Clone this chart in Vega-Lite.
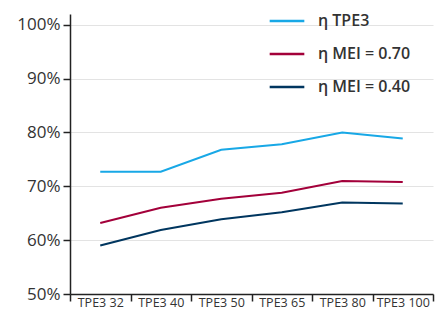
{
  "$schema": "https://vega.github.io/schema/vega-lite/v6.json",
  "width": 363,
  "height": 280,
  "autosize": "none",
  "padding": {"left": 70, "top": 14, "right": 13, "bottom": 18},
  "config": {
    "font": "Open Sans",
    "view": {"stroke": null}
  },
  "data": {
    "values": [
      {"model": "TPE3 32", "series": "η TPE3", "eff": 0.727},
      {"model": "TPE3 40", "series": "η TPE3", "eff": 0.727},
      {"model": "TPE3 50", "series": "η TPE3", "eff": 0.768},
      {"model": "TPE3 65", "series": "η TPE3", "eff": 0.778},
      {"model": "TPE3 80", "series": "η TPE3", "eff": 0.800},
      {"model": "TPE3 100", "series": "η TPE3", "eff": 0.789},
      {"model": "TPE3 32", "series": "η MEI = 0.70", "eff": 0.632},
      {"model": "TPE3 40", "series": "η MEI = 0.70", "eff": 0.660},
      {"model": "TPE3 50", "series": "η MEI = 0.70", "eff": 0.677},
      {"model": "TPE3 65", "series": "η MEI = 0.70", "eff": 0.688},
      {"model": "TPE3 80", "series": "η MEI = 0.70", "eff": 0.710},
      {"model": "TPE3 100", "series": "η MEI = 0.70", "eff": 0.708},
      {"model": "TPE3 32", "series": "η MEI = 0.40", "eff": 0.590},
      {"model": "TPE3 40", "series": "η MEI = 0.40", "eff": 0.619},
      {"model": "TPE3 50", "series": "η MEI = 0.40", "eff": 0.639},
      {"model": "TPE3 65", "series": "η MEI = 0.40", "eff": 0.652},
      {"model": "TPE3 80", "series": "η MEI = 0.40", "eff": 0.670},
      {"model": "TPE3 100", "series": "η MEI = 0.40", "eff": 0.668}
    ]
  },
  "mark": {"type": "line", "strokeWidth": 2},
  "encoding": {
    "x": {
      "field": "model",
      "type": "nominal",
      "sort": ["TPE3 32", "TPE3 40", "TPE3 50", "TPE3 65", "TPE3 80", "TPE3 100"],
      "scale": {"paddingInner": 0, "paddingOuter": 0},
      "axis": {
        "title": null,
        "labelAngle": 0,
        "labelFontSize": 12.5,
        "labelColor": "#333333",
        "labelPadding": -5,
        "labelBaseline": "top",
        "tickBand": "extent",
        "tickSize": 7,
        "tickColor": "#222222",
        "tickWidth": 1.5,
        "domainColor": "#222222",
        "domainWidth": 1.5,
        "grid": false
      }
    },
    "y": {
      "field": "eff",
      "type": "quantitative",
      "scale": {"domain": [0.5, 1.02], "nice": false, "zero": false},
      "axis": {
        "title": null,
        "format": ".0%",
        "values": [0.5, 0.6, 0.7, 0.8, 0.9, 1.0],
        "labelFontSize": 17,
        "labelColor": "#333333",
        "labelPadding": 3,
        "tickSize": 7,
        "tickColor": "#222222",
        "tickWidth": 1.5,
        "domainColor": "#222222",
        "domainWidth": 1.5,
        "gridColor": "#e3e3e3",
        "gridWidth": 1
      }
    },
    "color": {
      "field": "series",
      "type": "nominal",
      "sort": ["η TPE3", "η MEI = 0.70", "η MEI = 0.40"],
      "scale": {
        "domain": ["η TPE3", "η MEI = 0.70", "η MEI = 0.40"],
        "range": ["#18a8e6", "#a3003a", "#00365f"]
      },
      "legend": {
        "title": null,
        "orient": "none",
        "legendX": 198,
        "legendY": -12,
        "symbolType": "stroke",
        "symbolSize": 1200,
        "symbolStrokeWidth": 2.5,
        "labelFontSize": 16,
        "labelFontWeight": 600,
        "labelColor": "#333333",
        "labelOffset": 12,
        "rowPadding": 6
      }
    }
  }
}
